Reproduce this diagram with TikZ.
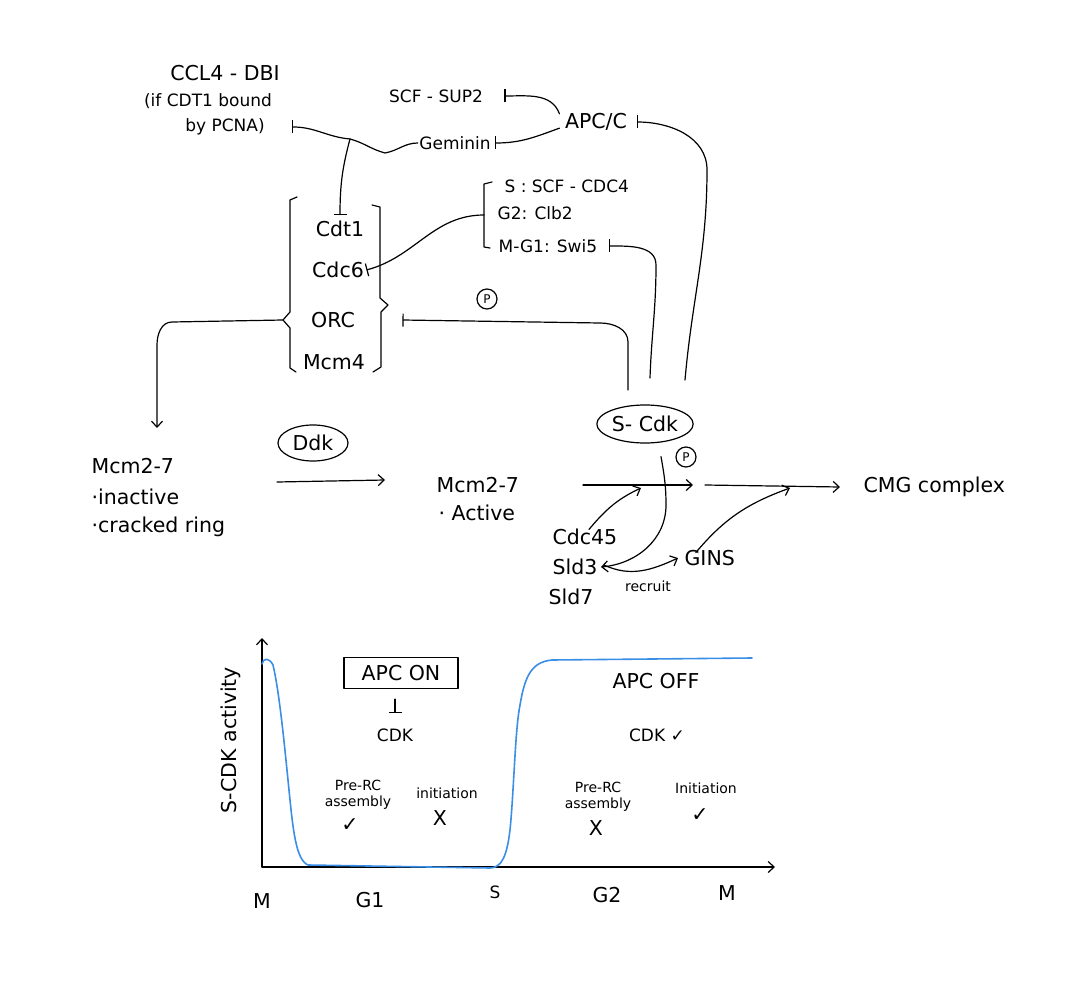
\documentclass[tikz,border=0pt]{standalone}
\usepackage{fontspec}
\setmainfont{DejaVu Sans}
\usetikzlibrary{arrows.meta,shapes.geometric}
\definecolor{cblue}{HTML}{3A8EE6}
\begin{document}
\begin{tikzpicture}[x=1pt,y=-1pt, line width=1.2pt, line cap=round, line join=round,
  big/.style={font=\fontsize{20.5}{24}\selectfont, inner sep=1pt},
  mid/.style={font=\fontsize{17}{20}\selectfont, inner sep=1pt},
  sml/.style={font=\fontsize{14}{16}\selectfont, inner sep=1pt, align=center},
  act/.style={-{Straight Barb[length=6pt,width=11pt]}},
  inh/.style={-{Bar[width=13pt]}},
  oval/.style={ellipse, draw, inner sep=2pt},
  pcirc/.style={circle, draw, font=\fontsize{12}{12}\selectfont, inner sep=0pt, minimum size=20pt},
  brk/.style={line width=1.2pt},
  activity/.style={draw=cblue, line width=1.6pt}
]
\useasboundingbox (0,0) rectangle (1092,1000);

% ---------- top regulators ----------
\node[big] (ccl) at (225,73) {CCL4 - DBI};
\node[mid] (ccl2) at (208,101) {(if CDT1 bound};
\node[mid] (ccl3) at (225,127) {by PCNA)};
\node[mid] (scf) at (436,96) {SCF - SUP2};
\node[big] (apc) at (596,122) {APC/C};
\node[mid] (gem) at (455,143) {Geminin};

% ---------- licensing group ----------
\node[big] (cdt) at (340,229) {Cdt1};
\node[big] (cdc6) at (338,270) {Cdc6};
\node[big] (orc) at (333,320) {ORC};
\node[big] (mcm4) at (334,362) {Mcm4};

\draw[brk] (297,197) -- (290,200) -- (290,312) -- (283,320) -- (290,328) -- (290,368) -- (296,372);
\draw[brk] (372,205) -- (380,207) -- (380,298) -- (388,305) -- (381,312) -- (381,367) -- (373,372);
\coordinate (ltip) at (283,320);

% ---------- Cdc6 degraders ----------
\node[mid, anchor=west] (scfc) at (503,186) {S : SCF - CDC4};
\node[mid, anchor=west] (clb) at (496,213) {G2: Clb2};
\node[mid, anchor=west] (swi) at (497,246) {M-G1: Swi5};
\draw[brk] (492,182) -- (484,184) -- (484,247) -- (490,248);
\coordinate (rbk) at (484,215);

% ---------- S-Cdk ----------
\node[oval, big, minimum width=96pt, minimum height=38pt] (scdk) at (645,424) {S- Cdk};
\coordinate (s1) at (628,390);
\coordinate (s2) at (650,378);
\coordinate (s3) at (685,380);
\node[pcirc] (p1) at (487,299) {P};
\node[pcirc] (p2) at (686,457) {P};

% ---------- connectors (top) ----------
\coordinate (j) at (350,139);
\coordinate (cusp) at (385,153);
\draw[inh] (j) to[out=175,in=0] ([xshift=26pt]ccl3.east);
\draw (gem.west) to[out=180,in=10] (cusp) to[out=165,in=-15] (j);
\draw[inh] (j) to[out=255,in=90] ([yshift=4pt]cdt.north);
\draw[inh] ([xshift=-4pt,yshift=-2pt]apc.north west) to[out=110,in=0] ([xshift=20pt]scf.east);
\draw[inh] ([xshift=-4pt,yshift=4pt]apc.south west) to[out=200,in=0] ([xshift=3pt]gem.east);
\draw[inh] (s3) to[out=85,in=-90] (707,170) to[out=90,in=0] ([xshift=8pt]apc.east);
\draw[inh] (s2) to[out=88,in=-90] (656,265) to[out=90,in=0] ([xshift=10pt]swi.east);
\draw[inh] (s1) -- (628,342) to[out=90,in=0] (600,323) -- ([xshift=46pt]orc.east);
\draw[inh] (rbk) to[out=180,in=15] ([xshift=1pt]cdc6.east);

% ---------- Mcm2-7 states ----------
\node[big, anchor=west] (mcmL) at (90,466) {Mcm2-7};
\node[big, anchor=west] (inact) at (90,497) {·inactive};
\node[big, anchor=west] (crk) at (90,527) {·cracked ring};
\coordinate (mtop) at (157,428);
\draw[act] (ltip) -- (172,322) to[out=180,in=90] (157,345) -- (mtop);

\node[oval, big, minimum width=70pt, minimum height=36pt] (ddk) at (313,443) {Ddk};
\node[big, anchor=west] (mcmR) at (435,485) {Mcm2-7};
\node[big, anchor=west] (actv) at (437,513) {· Active};
\coordinate (a1s) at (277,482);
\coordinate (a1e) at (385,480);
\draw[act] (a1s) -- (a1e);

\node[big, anchor=west] (cmg) at (862,487) {CMG complex};
\coordinate (a2s) at (583,485);
\coordinate (a2e) at (693,485);
\coordinate (a3s) at (705,485);
\draw[act] (a2s) -- (a2e);
\draw[act] (a3s) -- ([xshift=-22pt]cmg.west);

\node[big, anchor=west] (cdc45) at (551,537) {Cdc45};
\node[big, anchor=west] (sld3) at (551,567) {Sld3};
\node[big, anchor=west] (sld7) at (547,597) {Sld7};
\node[big, anchor=west] (gins) at (683,558) {GINS};
\node[sml] (rec) at (648,586) {recruit};

\draw[act] ([xshift=4pt,yshift=-2pt]cdc45.north) to[out=50,in=205] (641,488);
\draw[act] ([xshift=-14pt,yshift=-4pt]gins.north) to[out=50,in=200] (790,488);
\draw[act] ([xshift=16pt,yshift=-13pt]scdk.south) to[out=-80,in=90] (666,505) to[out=-90,in=5] ([xshift=2pt]sld3.east);
\draw[act] ([xshift=5pt,yshift=2pt]sld3.east) to[out=-25,in=205] ([xshift=-5pt]gins.west);

% ---------- graph ----------
\coordinate (O) at (262,867);
\coordinate (yend) at (262,638);
\coordinate (xend) at (775,867);
\draw[act] (O) -- (yend);
\draw[act] (O) -- (xend);
\node[big, rotate=90] (ylab) at (231,740) {S-CDK activity};

\draw[activity] (262,664) .. controls (263,658) and (269,657) .. (273,665)
  .. controls (279,690) and (284,740) .. (289,790)
  .. controls (293,830) and (296,860) .. (308,865)
  -- (490,868)
  .. controls (502,868) and (507,855) .. (510,830)
  .. controls (514,790) and (515,730) .. (520,705)
  .. controls (525,675) and (532,662) .. (552,660)
  -- (752,658);

\node[big, draw, minimum width=114pt, minimum height=31pt, inner sep=3pt] (apcon) at (401,673) {APC ON};
\node[mid] (cdk1) at (395,735) {CDK};
\coordinate (inhs) at ([yshift=-10pt]apcon.south -| cdk1.north);
\draw[inh] (inhs) -- ([yshift=14pt]cdk1.north);

\node[big] (apcoff) at (656,681) {APC OFF};
\node[mid] (cdk2) at (657,735) {CDK ✓};

\node[sml] (pre1) at (358,795) {Pre-RC\\assembly};
\node[big] (ok1) at (350,825) {✓};
\node[sml] (ini1) at (447,793) {initiation};
\node[big] (x1) at (440,818) {X};

\node[sml] (pre2) at (598,797) {Pre-RC\\assembly};
\node[big] (x2) at (596,828) {X};
\node[sml] (ini2) at (706,788) {Initiation};
\node[big] (ok2) at (700,815) {✓};

\node[big] (tM1) at (262,901) {M};
\node[big] (tG1) at (370,900) {G1};
\node[mid] (tS) at (495,892) {S};
\node[big] (tG2) at (607,895) {G2};
\node[big] (tM2) at (727,893) {M};
\end{tikzpicture}
\end{document}
